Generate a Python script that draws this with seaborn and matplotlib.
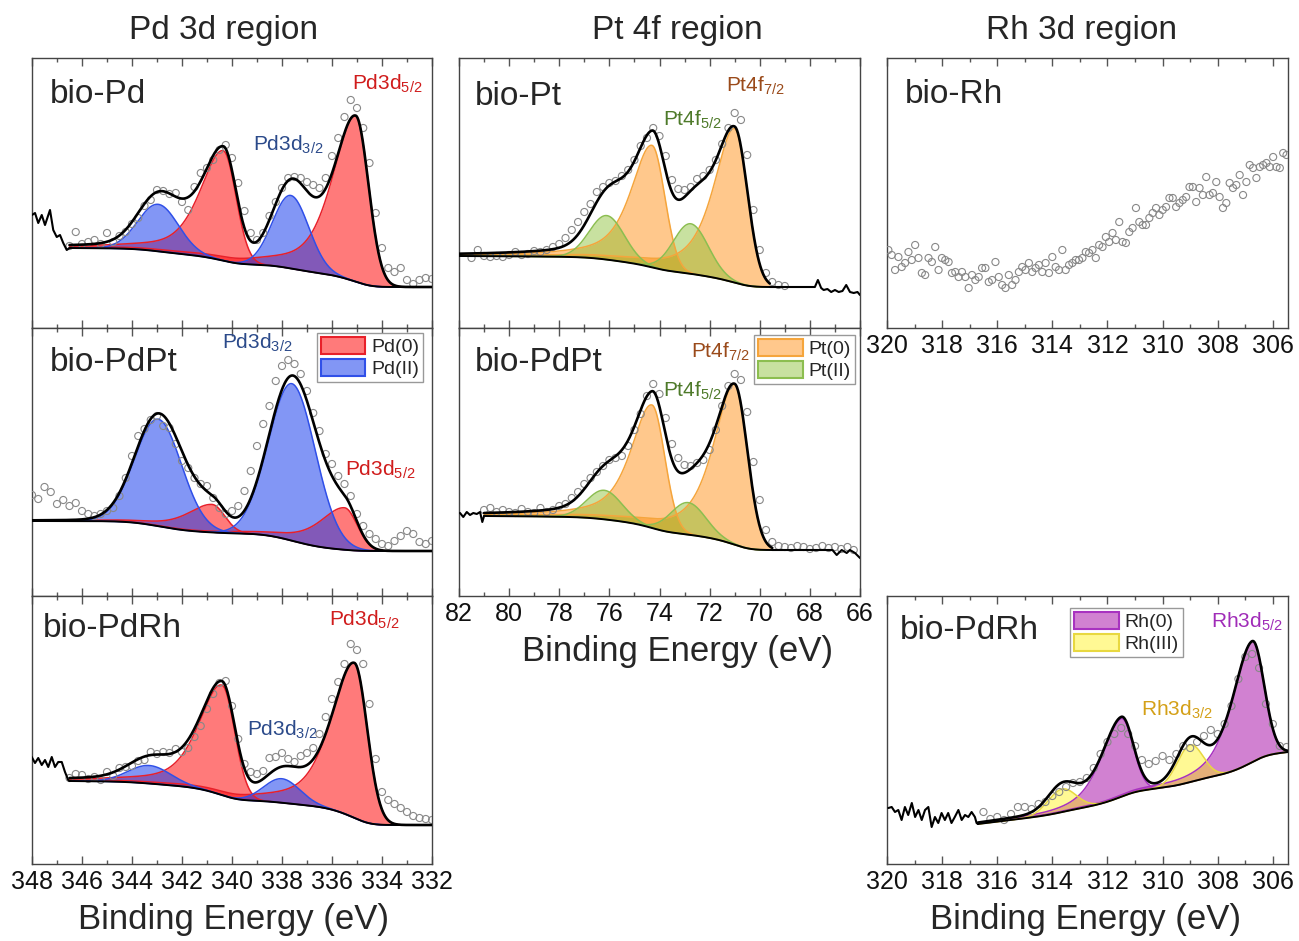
import numpy as np
import matplotlib
matplotlib.use("Agg")
import matplotlib.pyplot as plt
import seaborn as sns
from matplotlib.patches import Patch
from matplotlib.ticker import MultipleLocator
from matplotlib.colors import to_rgba

W_PX, H_PX = 1299, 941

COL_TITLES = ["Pd 3d region", "Pt 4f region", "Rh 3d region"]
XLABEL = "Binding Energy (eV)"

# intensities are in arbitrary units (panel height ~270)

# ---- Pd 3d / bio-Pd ------------------------------------------------------
PD1_E0, PD1_STEP = 346.5, 0.25
PD1_DATA = [82, 96, 84, 86, 88, 84, 95, 86, 92, 96,
            104, 110, 122, 128, 138, 137, 134, 135, 126, 118,
            141, 155, 160, 168, 178, 183, 170, 145, 117, 95,
            88, 95, 112, 126, 140, 150, 151, 150, 146, 143,
            140, 150, 172, 190, 211, 228, 220, 200, 165, 115,
            80, 60, 56, 60, 48, 44, 48, 50, 49]
PD1_RAW_E = [348.0, 347.88, 347.75, 347.61, 347.48, 347.28, 347.15, 347.01, 346.88, 346.75, 346.61, 346.5]
PD1_RAW_Y = [113, 115, 105, 113, 103, 118, 98, 91, 93, 85, 78, 80]
PD1_RANGE = (346.5, 332.0)
PD1_BG = (80, 41)
PD1_METAL_POS = [335.05, 340.35]
PD1_METAL_H = [166, 110]
PD1_OX_POS = [337.65, 342.95]
PD1_OX_H = [73, 47]
PD1_OX_W = [0.85, 0.95]

# ---- Pd 3d / bio-PdPt ----------------------------------------------------
PD2_E0, PD2_STEP = 348.0, 0.25
PD2_DATA = [101, 97, 109, 104, 92, 96, 90, 93, 85, 82,
            80, 82, 85, 88, 100, 118, 140, 160, 167, 176,
            180, 170, 168, 152, 135, 128, 118, 112, 110, 98,
            88, 82, 85, 90, 105, 125, 150, 172, 190, 215,
            230, 236, 232, 222, 205, 183, 165, 142, 132, 120,
            112, 100, 82, 70, 62, 57, 52, 50, 55, 60,
            65, 62, 54, 52, 55]
PD2_RANGE = (348.0, 332.0)
PD2_BG = (75, 45)
PD2_METAL_POS = [335.5, 340.8]
PD2_METAL_H = [42, 28]
PD2_OX_POS = [337.6, 342.95]
PD2_OX_H = [157, 107]
PD2_OX_W = [1.1, 1.1]

# ---- Pd 3d / bio-PdRh ----------------------------------------------------
PD3_E0, PD3_STEP = 346.5, 0.25
PD3_DATA = [86, 90, 89, 85, 87, 84, 92, 88, 96, 97,
            98, 103, 104, 112, 110, 112, 111, 115, 112, 116,
            127, 138, 155, 170, 181, 183, 158, 125, 100, 92,
            90, 93, 106, 107, 111, 105, 102, 108, 111, 116,
            130, 147, 165, 182, 200, 220, 214, 200, 160, 105,
            72, 64, 60, 56, 52, 48, 46, 45, 44]
PD3_RAW_E = [348.01, 347.88, 347.75, 347.61, 347.48, 347.35, 347.21, 347.08, 346.95, 346.81, 346.68, 346.55, 346.5]
PD3_RAW_Y = [107, 101, 106, 99, 104, 97, 107, 97, 102, 102, 92, 84, 83]
PD3_RANGE = (346.5, 332.0)
PD3_BG = (83, 39)
PD3_METAL_POS = [335.1, 340.4]
PD3_METAL_H = [155, 110]
PD3_OX_POS = [338.0, 343.3]
PD3_OX_H = [24, 18]
PD3_OX_W = [0.85, 1.0]

# ---- Pt 4f / bio-Pt ------------------------------------------------------
PT1_E0, PT1_STEP = 81.5, 0.25
PT1_DATA = [70, 78, 72, 71, 72, 71, 73, 76, 73, 74,
            77, 76, 78, 81, 84, 90, 98, 106, 116, 124,
            136, 141, 145, 147, 152, 158, 168, 182, 190, 200,
            192, 172, 148, 139, 138, 141, 149, 152, 158, 168,
            184, 200, 215, 208, 173, 118, 78, 55, 46, 43,
            42]
PT1_RAW_E = [69.6, 69.2, 68.8, 68.4, 68.0, 67.8, 67.68, 67.55, 67.45, 67.3,
             67.15, 67.0, 66.85, 66.7, 66.55, 66.4, 66.25, 66.1, 66.0]
PT1_RAW_Y = [41, 41, 41, 41, 41, 41, 48, 40, 38, 39, 36, 38, 36, 37, 43, 36, 35, 36, 33]
PT1_RANGE = (82.0, 69.6)
PT1_BG = (72, 41)
PT1_METAL_POS = [74.3, 71.0]
PT1_METAL_H = [122, 154]
PT1_OX_POS = [76.1, 72.75]
PT1_OX_H = [44, 50]
PT1_OX_W = [0.82, 0.82]

# ---- Pt 4f / bio-PdPt ----------------------------------------------------
PT2_E0, PT2_STEP = 81.0, 0.25
PT2_DATA = [86, 88, 84, 86, 84, 83, 87, 84, 83, 88,
            84, 86, 90, 92, 98, 104, 112, 118, 124, 130,
            136, 138, 140, 150, 166, 182, 200, 212, 202, 178,
            152, 138, 131, 130, 133, 136, 146, 166, 190, 210,
            222, 216, 184, 134, 96, 66, 54, 50, 49, 48,
            50, 49, 47, 48, 50, 48, 49, 47, 49, 46]
PT2_RAW_L_E = [81.96, 81.83, 81.69, 81.56, 81.43, 81.29, 81.16, 81.07, 81.0]
PT2_RAW_L_Y = [83, 79, 84, 81, 83, 82, 84, 74, 80]
PT2_RAW_R_E = [69.5, 68.5, 67.5, 67.1, 66.93, 66.73, 66.53, 66.4, 66.2, 66.0]
PT2_RAW_R_Y = [46, 46, 46, 46, 41, 46, 43, 46, 43, 38]
PT2_RANGE = (81.0, 69.5)
PT2_BG = (80, 46)
PT2_METAL_POS = [74.3, 71.0]
PT2_METAL_H = [123, 160]
PT2_OX_POS = [76.2, 72.85]
PT2_OX_H = [29, 32]
PT2_OX_W = [0.82, 0.82]

# ---- Rh 3d / bio-Rh (data only) ------------------------------------------
RH1_E0, RH1_STEP = 319.95, 0.1214
RH1_DATA = [78, 73, 58, 71, 61, 65, 76, 68, 83, 70,
            55, 53, 70, 66, 81, 58, 70, 68, 66, 55,
            56, 51, 56, 51, 40, 53, 48, 51, 60, 60,
            46, 48, 66, 51, 43, 40, 53, 43, 48, 56,
            61, 58, 65, 56, 60, 63, 56, 65, 55, 71,
            61, 58, 78, 58, 63, 65, 68, 68, 70, 76,
            75, 78, 70, 83, 81, 91, 86, 95, 88, 106,
            86, 85, 96, 100, 120, 106, 103, 103, 110, 115,
            120, 113, 118, 121, 130, 130, 121, 125, 128, 131,
            141, 141, 126, 140, 133, 151, 133, 135, 146, 131,
            120, 125, 145, 140, 143, 153, 133, 146, 163, 160,
            150, 161, 163, 165, 161, 171, 161, 160, 175, 173]

# ---- Rh 3d / bio-PdRh ----------------------------------------------------
RH2_E0, RH2_STEP = 316.5, 0.25
RH2_DATA = [52, 45, 47, 44, 50, 57, 57, 55, 60, 62,
            68, 72, 77, 81, 82, 86, 96, 110, 122, 130,
            136, 130, 118, 104, 100, 103, 108, 104, 110, 118,
            116, 122, 128, 134, 130, 140, 158, 185, 207, 210,
            196, 160, 140, 118, 117]
RH2_RAW_E = [319.95, 319.83, 319.71, 319.59, 319.47, 319.35, 319.23, 319.10, 318.98, 318.86,
             318.74, 318.62, 318.50, 318.38, 318.26, 318.14, 318.02, 317.90, 317.78, 317.66,
             317.54, 317.41, 317.29, 317.17, 317.05, 316.93, 316.81, 316.75, 316.70]
RH2_RAW_Y = [56, 57, 52, 54, 44, 57, 49, 61, 47, 54, 44, 54, 57, 37, 47, 41, 51, 44, 51, 41,
             47, 54, 44, 49, 47, 52, 47, 41, 40]
RH2_RANGE = (316.7, 305.45)
RH2_BG = (40, 112)
RH2_METAL_POS = [306.75, 311.5]
RH2_METAL_H = [121, 78]
RH2_OX_POS = [309.0, 313.65]
RH2_OX_H = [37, 23]
RH2_OX_W = [0.55, 0.6]

# ---- colours --------------------------------------------------------------
PD0 = dict(fill="#ff0505", alpha=0.53, edge="#e8202a")
PD2 = dict(fill="#183dee", alpha=0.54, edge="#3050e8")
PT0 = dict(fill="#ff8500", alpha=0.45, edge="#f5a53c")
PT2 = dict(fill="#85bd2c", alpha=0.45, edge="#8cbe50")
RH0 = dict(fill="#a505a5", alpha=0.50, edge="#a832c0")
RH3 = dict(fill="#fff200", alpha=0.42, edge="#e8d840")
C_PD52, C_PD32 = "#d01c1c", "#2b4a8a"
C_PT72, C_PT52 = "#9a4a1a", "#4e7a2a"
C_RH52, C_RH32 = "#a02cb8", "#d4a017"


def component(e, pos, height, w_lo, w_hi, eta):
    # split pseudo-Voigt: lorentzian tail only on the high-BE side
    d = e - pos
    hi = d >= 0
    x2 = np.where(hi, (d / w_hi) ** 2, (d / w_lo) ** 2)
    mix = np.where(hi, eta, 0.0)
    return height * ((1 - mix) * np.exp(-np.log(2) * x2) + mix / (1 + x2))


def background(e, total, b_hi, b_lo, shirley=1.0):
    area = np.cumsum(total[::-1])[::-1]
    frac = area / area[0]
    lin = (e - e[-1]) / (e[0] - e[-1])
    f = shirley * frac + (1 - shirley) * lin
    return b_lo + (b_hi - b_lo) * f


def draw_fit(ax, rng, bg_ends, groups, shirley=1.0):
    e = np.linspace(rng[0], rng[1], 900)
    curves = []
    for g in groups:
        curves.append([component(e, p, h, wl, wh, g["eta"])
                       for p, h, wl, wh in zip(g["pos"], g["h"], g["w_lo"], g["w_hi"])])
    total = sum(c for cs in curves for c in cs)
    bg = background(e, total, bg_ends[0], bg_ends[1], shirley)
    for g, cs in zip(groups, curves):
        st = g["style"]
        for c in cs:
            ax.fill_between(e, bg, bg + c, color=st["fill"], alpha=st["alpha"], lw=0, zorder=1)
            ax.plot(e, bg + c, color=st["edge"], lw=1.1, zorder=2)
    ax.plot(e, bg, color="black", lw=1.4, zorder=5)
    ax.plot(e, bg + total, color="black", lw=1.9, zorder=5)


def metal(pos, h, style, w_lo, w_hi, eta):
    return dict(pos=pos, h=h, w_lo=[w_lo] * len(pos), w_hi=[w_hi] * len(pos), eta=eta, style=style)


def oxide(pos, h, w, style):
    return dict(pos=pos, h=h, w_lo=w, w_hi=w, eta=0.0, style=style)


def scatter(ax, e0, step, values):
    e = e0 - step * np.arange(len(values))
    sns.scatterplot(x=e, y=values, ax=ax, s=26, marker="o", facecolor="none",
                    edgecolor="#888888", linewidth=0.8, zorder=3, legend=False)


def raw_line(ax, e, y):
    sns.lineplot(x=e, y=y, ax=ax, color="black", lw=1.5, sort=False, estimator=None, zorder=5)


def style_axes(ax, xlim, ytop, labels):
    ax.set_xlim(*xlim)
    ax.set_ylim(0, ytop)
    ax.set_yticks([])
    ax.set_xlabel("")
    ax.set_ylabel("")
    ax.xaxis.set_major_locator(MultipleLocator(2))
    ax.xaxis.set_minor_locator(MultipleLocator(1))
    ax.tick_params(axis="x", which="both", direction="in", top=True, bottom=True,
                   color="#555555", width=1.0, labelsize=18, labelcolor="#111111",
                   pad=4, labelbottom=labels)
    ax.tick_params(axis="x", which="major", length=6)
    ax.tick_params(axis="x", which="minor", length=3)
    for s in ax.spines.values():
        s.set_visible(True)
        s.set_color("#444444")
        s.set_linewidth(1.0)


def name(ax, text, x, y):
    ax.text(x, y, text, transform=ax.transAxes, fontsize=24, va="center", ha="left", zorder=6)


def peak_label(ax, text, x, y, color):
    ax.text(x, y, text, fontsize=15, color=color, ha="center", va="center", zorder=6)


def legend(ax, styles, labels, anchor):
    handles = [Patch(facecolor=to_rgba(s["fill"], s["alpha"]), edgecolor=s["edge"], lw=1.5, label=l)
               for s, l in zip(styles, labels)]
    ax.legend(handles=handles, loc="upper right", bbox_to_anchor=anchor, borderaxespad=0,
              fontsize=14, handlelength=2.3, handleheight=1.0, handletextpad=0.3,
              labelspacing=0.12, borderpad=0.2, fancybox=False, framealpha=1,
              edgecolor="#999999")


sns.set_theme(style="ticks")
plt.rcParams["font.family"] = ["Liberation Sans", "DejaVu Sans"]
plt.rcParams["mathtext.fontset"] = "custom"
plt.rcParams["mathtext.rm"] = "Liberation Sans"
plt.rcParams["mathtext.default"] = "regular"

fig = plt.figure(figsize=(W_PX / 100, H_PX / 100), dpi=100)


def add_ax(left, top, w, h):
    return fig.add_axes([left / W_PX, 1 - (top + h) / H_PX, w / W_PX, h / H_PX])


PD_X = (348, 332)
PT_X = (82, 66)
RH_X = (320, 305.45)

# ---- Pd column
ax = add_ax(32, 58, 400, 270)
draw_fit(ax, PD1_RANGE, PD1_BG, [metal(PD1_METAL_POS, PD1_METAL_H, PD0, 0.6, 1.1, 0.6),
                                 oxide(PD1_OX_POS, PD1_OX_H, PD1_OX_W, PD2)])
scatter(ax, PD1_E0, PD1_STEP, PD1_DATA)
raw_line(ax, PD1_RAW_E, PD1_RAW_Y)
style_axes(ax, PD_X, 270, False)
name(ax, "bio-Pd", 0.045, 0.863)
peak_label(ax, "Pd3d$_{5/2}$", 333.8, 244, C_PD52)
peak_label(ax, "Pd3d$_{3/2}$", 337.76, 183, C_PD32)

ax = add_ax(32, 328, 400, 268)
draw_fit(ax, PD2_RANGE, PD2_BG, [metal(PD2_METAL_POS, PD2_METAL_H, PD0, 0.6, 1.2, 0.6),
                                 oxide(PD2_OX_POS, PD2_OX_H, PD2_OX_W, PD2)])
scatter(ax, PD2_E0, PD2_STEP, PD2_DATA)
style_axes(ax, PD_X, 268, False)
name(ax, "bio-PdPt", 0.045, 0.87)
peak_label(ax, "Pd3d$_{3/2}$", 339.0, 253, C_PD32)
peak_label(ax, "Pd3d$_{5/2}$", 334.08, 126, C_PD52)
legend(ax, [PD0, PD2], ["Pd(0)", "Pd(II)"], (1 - 9 / 400, 1 - 5 / 268))

ax = add_ax(32, 596, 400, 268)
draw_fit(ax, PD3_RANGE, PD3_BG, [metal(PD3_METAL_POS, PD3_METAL_H, PD0, 0.6, 1.1, 0.6),
                                 oxide(PD3_OX_POS, PD3_OX_H, PD3_OX_W, PD2)])
scatter(ax, PD3_E0, PD3_STEP, PD3_DATA)
raw_line(ax, PD3_RAW_E, PD3_RAW_Y)
style_axes(ax, PD_X, 268, True)
name(ax, "bio-PdRh", 0.028, 0.88)
peak_label(ax, "Pd3d$_{5/2}$", 334.72, 244, C_PD52)
peak_label(ax, "Pd3d$_{3/2}$", 338.0, 134, C_PD32)

# ---- Pt column
ax = add_ax(459, 58, 401, 270)
draw_fit(ax, PT1_RANGE, PT1_BG, [metal(PT1_METAL_POS, PT1_METAL_H, PT0, 0.6, 1.0, 0.7),
                                 oxide(PT1_OX_POS, PT1_OX_H, PT1_OX_W, PT2)])
scatter(ax, PT1_E0, PT1_STEP, PT1_DATA)
raw_line(ax, PT1_RAW_E, PT1_RAW_Y)
style_axes(ax, PT_X, 270, False)
name(ax, "bio-Pt", 0.04, 0.856)
peak_label(ax, "Pt4f$_{7/2}$", 70.19, 242, C_PT72)
peak_label(ax, "Pt4f$_{5/2}$", 72.7, 208, C_PT52)

ax = add_ax(459, 328, 401, 268)
draw_fit(ax, PT2_RANGE, PT2_BG, [metal(PT2_METAL_POS, PT2_METAL_H, PT0, 0.6, 1.0, 0.7),
                                 oxide(PT2_OX_POS, PT2_OX_H, PT2_OX_W, PT2)])
scatter(ax, PT2_E0, PT2_STEP, PT2_DATA)
raw_line(ax, PT2_RAW_L_E, PT2_RAW_L_Y)
raw_line(ax, PT2_RAW_R_E, PT2_RAW_R_Y)
style_axes(ax, PT_X, 268, True)
name(ax, "bio-PdPt", 0.04, 0.87)
peak_label(ax, "Pt4f$_{7/2}$", 71.58, 244, C_PT72)
peak_label(ax, "Pt4f$_{5/2}$", 72.7, 205, C_PT52)
legend(ax, [PT0, PT2], ["Pt(0)", "Pt(II)"], (1 - 5 / 401, 1 - 7 / 268))

# ---- Rh column
ax = add_ax(887, 58, 401, 270)
scatter(ax, RH1_E0, RH1_STEP, RH1_DATA)
style_axes(ax, RH_X, 270, True)
name(ax, "bio-Rh", 0.045, 0.863)

ax = add_ax(887, 596, 401, 268)
draw_fit(ax, RH2_RANGE, RH2_BG, [metal(RH2_METAL_POS, RH2_METAL_H, RH0, 0.5, 0.85, 0.5),
                                 oxide(RH2_OX_POS, RH2_OX_H, RH2_OX_W, RH3)], shirley=0.5)
scatter(ax, RH2_E0, RH2_STEP, RH2_DATA)
raw_line(ax, RH2_RAW_E, RH2_RAW_Y)
style_axes(ax, RH_X, 268, True)
name(ax, "bio-PdRh", 0.032, 0.873)
peak_label(ax, "Rh3d$_{5/2}$", 306.94, 242, C_RH52)
peak_label(ax, "Rh3d$_{3/2}$", 309.48, 154, C_RH32)
legend(ax, [RH0, RH3], ["Rh(0)", "Rh(III)"], (0.738, 0.955))

# ---- column titles and axis labels
for txt, xc in zip(COL_TITLES, [223, 677, 1082]):
    fig.text(xc / W_PX, 1 - 30 / H_PX, txt, fontsize=24, ha="center", va="center")
for xc, yc in [(233, 920), (677, 652), (1085, 920)]:
    fig.text(xc / W_PX, 1 - yc / H_PX, XLABEL, fontsize=25, ha="center", va="center")

fig.savefig("out.png", dpi=100)
